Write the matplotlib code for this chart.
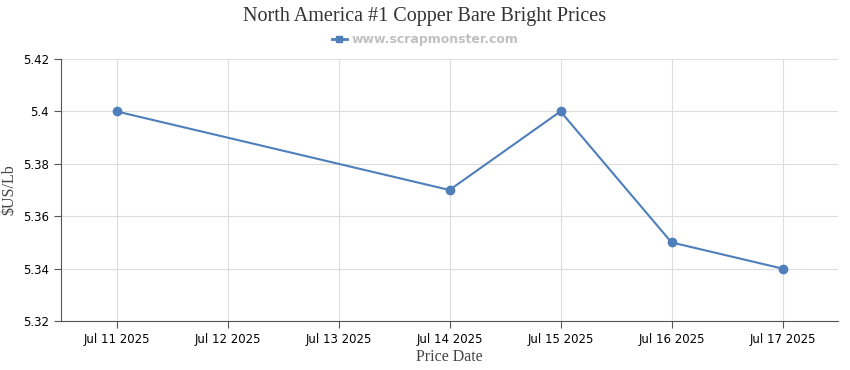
import matplotlib.pyplot as plt
from matplotlib.lines import Line2D

dates = ["Jul 11 2025", "Jul 12 2025", "Jul 13 2025", "Jul 14 2025",
         "Jul 15 2025", "Jul 16 2025", "Jul 17 2025"]
price_dates = ["Jul 11 2025", "Jul 14 2025", "Jul 15 2025", "Jul 16 2025", "Jul 17 2025"]
prices = [5.40, 5.37, 5.40, 5.35, 5.34]

color = "#4f7fba"

fig = plt.figure(figsize=(8.5, 3.7), dpi=100)
ax = fig.add_axes([61/850, 1-321/370, (838-61)/850, (321-59)/370])

xpos = [dates.index(d) for d in price_dates]
ax.plot(xpos, prices, color=color, lw=1.5, marker="o", ms=6, zorder=3)

ax.set_xlim(-0.5, 6.5)
ax.set_ylim(5.32, 5.42)
ax.set_xticks(range(len(dates)))
ax.set_xticklabels(dates, fontsize=8.5, family="DejaVu Sans")
yt = [5.32, 5.34, 5.36, 5.38, 5.4, 5.42]
ax.set_yticks(yt)
ax.set_yticklabels(["5.32", "5.34", "5.36", "5.38", "5.4", "5.42"], fontsize=8.5)
ax.grid(True, color="#dddddd", lw=0.8)
ax.set_axisbelow(True)
for s in ["top", "right"]:
    ax.spines[s].set_visible(False)
for s in ["left", "bottom"]:
    ax.spines[s].set_color("#555555")
ax.tick_params(colors="#555555", labelcolor="black", length=5, width=0.8)

ax.set_xlabel("Price Date", family="Liberation Serif", fontsize=11.5, color="#444444", labelpad=2)
ax.set_ylabel("$US/Lb", family="Liberation Serif", fontsize=11.5, color="#444444", labelpad=4)

fig.text(0.5, 1-16/370, "North America #1 Copper Bare Bright Prices", ha="center", va="center",
         family="Liberation Serif", fontsize=14.5, color="#333333")
handle = Line2D([], [], color=color, lw=2, marker="s", ms=5)
fig.legend([handle], ["www.scrapmonster.com"], loc="center", bbox_to_anchor=(0.5, 1-40/370),
           frameon=False, prop={"family": "DejaVu Sans", "weight": "bold", "size": 9},
           labelcolor="#c0c0c0", handlelength=1.2, handletextpad=0.4)

fig.savefig("out.png")
